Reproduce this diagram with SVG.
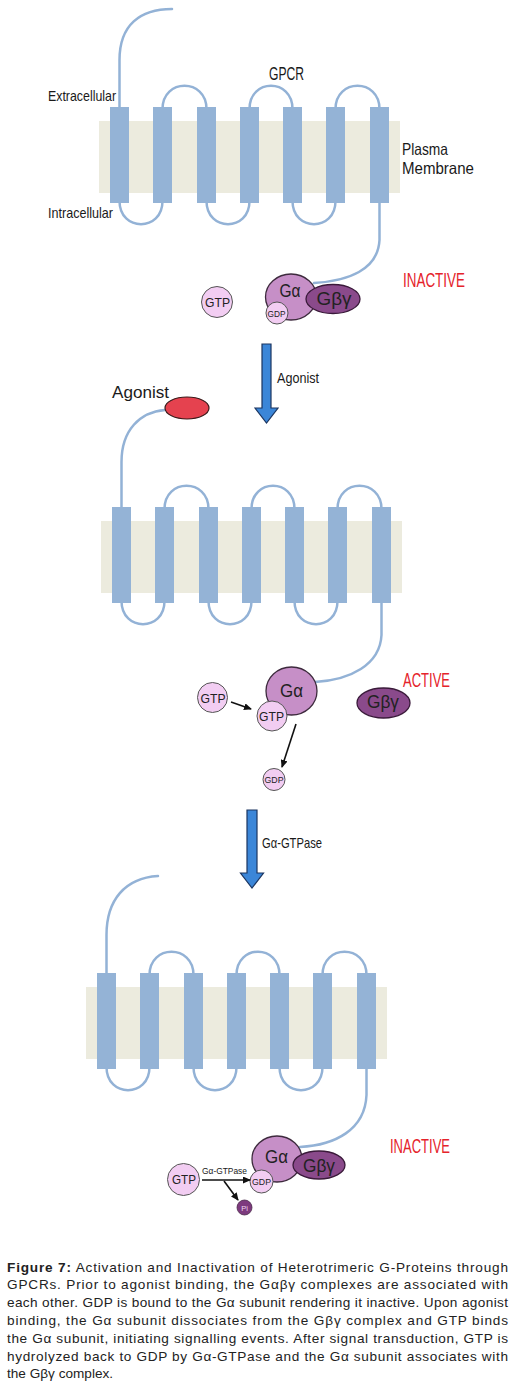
<svg xmlns="http://www.w3.org/2000/svg" xmlns:xlink="http://www.w3.org/1999/xlink" width="530" height="1388" viewBox="0 0 530 1388">
<style>
.mem{fill:#ecebde}
.hx{fill:#94b3d6}
.loop{fill:none;stroke:#93b2d6;stroke-width:2.5;stroke-linecap:round}
.lbl{font-family:"Liberation Sans",Arial,sans-serif;fill:#1a1a1a}
.red{font-family:"Liberation Sans",Arial,sans-serif;fill:#e5232b}
.ga{fill:#c68fc7;stroke:#3d2a3d;stroke-width:1.3}
.gbg{fill:#8a4a8b;stroke:#3a1a3a;stroke-width:1.3}
.nuc{fill:#f2cdf2;stroke:#555;stroke-width:1}
.pi{fill:#7d3a7e;stroke:#4a2a4a;stroke-width:0.8}
.mt{font-family:"Liberation Sans",Arial,sans-serif;fill:#222;text-anchor:middle}
.blue{fill:#3b86d8;stroke:#1b3560;stroke-width:1.2}
.sm{stroke:#111;stroke-width:1.6;fill:none}
.cap{font-family:"Liberation Sans",Arial,sans-serif;font-size:13.6px;fill:#222}
</style>
<defs>
<marker id="ah" markerUnits="userSpaceOnUse" markerWidth="8" markerHeight="7" refX="7" refY="3.5" orient="auto">
<path d="M0,0 L8,3.5 L0,7 z" fill="#111"/>
</marker>
<g id="gpcr-core">
<rect class="mem" x="-11" y="14" width="301" height="72"/>
<path class="loop" d="M52.5,2 C52.5,-29 96.5,-29 96.5,2 M139.5,2 C139.5,-29 182.5,-29 182.5,2 M225.5,2 C225.5,-29 269.5,-29 269.5,2"/>
<path class="loop" d="M9.5,94 C9.5,125 52.5,125 52.5,94 M96.5,94 C96.5,125 139.5,125 139.5,94 M182.5,94 C182.5,125 225.5,125 225.5,94"/>
<rect class="hx" x="0" y="0" width="19" height="96"/>
<rect class="hx" x="43" y="0" width="19" height="96"/>
<rect class="hx" x="87" y="0" width="19" height="96"/>
<rect class="hx" x="130" y="0" width="19" height="96"/>
<rect class="hx" x="173" y="0" width="19" height="96"/>
<rect class="hx" x="216" y="0" width="19" height="96"/>
<rect class="hx" x="260" y="0" width="19" height="96"/>
</g>
</defs>
<rect width="530" height="1388" fill="#fff"/>

<!-- Panel 1 -->
<g id="gpcr-top">
<path class="loop" d="M119.5,108 L119.5,60 C119.5,25 140,9 172,9"/>
<path class="loop" d="M379.5,202 L379.5,240 C378,270 348,281 314,283"/>
<use href="#gpcr-core" x="110" y="107"/>
</g>
<g id="labels-top">
<text class="lbl" x="48" y="101" font-size="14.5" textLength="68" lengthAdjust="spacingAndGlyphs">Extracellular</text>
<text class="lbl" x="48" y="218" font-size="14.5" textLength="65" lengthAdjust="spacingAndGlyphs">Intracellular</text>
<text class="lbl" x="269" y="80" font-size="18" textLength="35" lengthAdjust="spacingAndGlyphs">GPCR</text>
<text class="lbl" x="402" y="154.5" font-size="16.5" textLength="46" lengthAdjust="spacingAndGlyphs">Plasma</text>
<text class="lbl" x="402" y="173.5" font-size="16.5" textLength="72" lengthAdjust="spacingAndGlyphs">Membrane</text>
<text class="red" x="403" y="287" font-size="20" textLength="62" lengthAdjust="spacingAndGlyphs">INACTIVE</text>
</g>
<g id="gtp-top">
<circle class="nuc" cx="217" cy="302" r="15.5"/>
<text class="mt" x="217.5" y="307" font-size="13" textLength="25" lengthAdjust="spacingAndGlyphs">GTP</text>
</g>
<g id="galpha-top">
<ellipse class="ga" cx="291" cy="297" rx="25.5" ry="23"/>
<text class="mt" x="290" y="297" font-size="18" textLength="21" lengthAdjust="spacingAndGlyphs">Gα</text>
</g>
<g id="gbg-top">
<ellipse class="gbg" cx="333" cy="299" rx="27" ry="14.5"/>
<text class="mt" x="334" y="305" font-size="18" textLength="35" lengthAdjust="spacingAndGlyphs">Gβγ</text>
</g>
<g id="gdp-top">
<circle class="nuc" cx="277" cy="313" r="11"/>
<text class="mt" x="276.5" y="316.5" font-size="9" textLength="18" lengthAdjust="spacingAndGlyphs">GDP</text>
</g>

<!-- Panel 2 -->
<g id="gpcr-middle">
<path class="loop" d="M165,410 C140,412 121.5,430 121.5,462 L121.5,508"/>
<path class="loop" d="M381.5,602 L381.5,635 C380,665 350,680 315,682"/>
<use href="#gpcr-core" x="112" y="507"/>
</g>
<g id="agonist">
<ellipse cx="187" cy="408" rx="22" ry="11" fill="#e5424f" stroke="#3a1a1a" stroke-width="1.2"/>
<text class="lbl" x="112" y="398" font-size="16.5" textLength="57" lengthAdjust="spacingAndGlyphs">Agonist</text>
</g>
<g id="labels-middle">
<text class="red" x="403" y="687" font-size="20" textLength="47" lengthAdjust="spacingAndGlyphs">ACTIVE</text>
</g>
<g id="gtp-free-middle">
<circle class="nuc" cx="212.5" cy="697.5" r="15"/>
<text class="mt" x="213" y="702.5" font-size="13" textLength="25" lengthAdjust="spacingAndGlyphs">GTP</text>
</g>
<g id="galpha-middle">
<ellipse class="ga" cx="291.5" cy="691" rx="25.5" ry="24"/>
<text class="mt" x="291.5" y="697" font-size="18" textLength="23" lengthAdjust="spacingAndGlyphs">Gα</text>
</g>
<g id="gtp-bound-middle">
<circle class="nuc" cx="272" cy="716" r="15"/>
<text class="mt" x="271.5" y="721" font-size="13" textLength="25" lengthAdjust="spacingAndGlyphs">GTP</text>
</g>
<g id="gbg-middle">
<ellipse class="gbg" cx="383.5" cy="703" rx="26.5" ry="15"/>
<text class="mt" x="383" y="708" font-size="18" textLength="32" lengthAdjust="spacingAndGlyphs">Gβγ</text>
</g>
<g id="gdp-middle">
<circle class="nuc" cx="274" cy="779.5" r="11"/>
<text class="mt" x="274" y="783" font-size="9" textLength="19" lengthAdjust="spacingAndGlyphs">GDP</text>
</g>

<!-- Panel 3 -->
<g id="gpcr-bottom">
<path class="loop" d="M158,876 C125,878 106.5,900 106.5,935 L106.5,974"/>
<path class="loop" d="M366.5,1069 L366.5,1095 C365,1130 335,1145 300,1147"/>
<use href="#gpcr-core" x="97" y="973"/>
</g>
<g id="labels-bottom">
<text class="red" x="390" y="1153" font-size="20" textLength="60" lengthAdjust="spacingAndGlyphs">INACTIVE</text>
</g>
<g id="gtp-bottom">
<circle class="nuc" cx="183.5" cy="1179.5" r="16"/>
<text class="mt" x="184" y="1184" font-size="13" textLength="24" lengthAdjust="spacingAndGlyphs">GTP</text>
</g>
<g id="galpha-bottom">
<ellipse class="ga" cx="277" cy="1159" rx="25" ry="23"/>
<text class="mt" x="276.5" y="1163" font-size="18" textLength="23" lengthAdjust="spacingAndGlyphs">Gα</text>
</g>
<g id="gbg-bottom">
<ellipse class="gbg" cx="319" cy="1165" rx="26" ry="14"/>
<text class="mt" x="319" y="1172" font-size="18" textLength="32" lengthAdjust="spacingAndGlyphs">Gβγ</text>
</g>
<g id="gdp-bottom">
<circle class="nuc" cx="261.5" cy="1181.5" r="11.5"/>
<text class="mt" x="261.5" y="1185" font-size="9" textLength="19" lengthAdjust="spacingAndGlyphs">GDP</text>
</g>
<g id="pi-bottom">
<circle class="pi" cx="244.5" cy="1207.5" r="7.5"/>
<text class="mt" x="244.5" y="1210.5" font-size="7.5" style="fill:#f0d8f0">Pi</text>
</g>

<!-- Connectors -->
<g id="connectors">
<polygon class="blue" points="262,344 271,344 271,408 278,408 266.5,423 255,408 262,408"/>
<text class="lbl" x="277" y="383" font-size="15" textLength="42" lengthAdjust="spacingAndGlyphs">Agonist</text>
<polygon class="blue" points="247,810 257,810 257,873 263.5,873 252,888 240.5,873 247,873"/>
<text class="lbl" x="262" y="848" font-size="14.5" textLength="60" lengthAdjust="spacingAndGlyphs">Gα-GTPase</text>
<line class="sm" x1="231" y1="702" x2="251" y2="709" marker-end="url(#ah)"/>
<line class="sm" x1="296" y1="724" x2="282" y2="767" marker-end="url(#ah)"/>
<line class="sm" x1="202" y1="1180" x2="250" y2="1180" marker-end="url(#ah)"/>
<line class="sm" x1="224" y1="1181" x2="238" y2="1200" marker-end="url(#ah)"/>
<text class="lbl" x="202" y="1174" font-size="9" textLength="45" lengthAdjust="spacingAndGlyphs">Gα-GTPase</text>
</g>

<!-- Caption -->
<g id="caption">
<text class="cap" x="7" y="1271.5" textLength="501" lengthAdjust="spacing"><tspan font-weight="bold">Figure 7:</tspan> Activation and Inactivation of Heterotrimeric G-Proteins through</text>
<text class="cap" x="7" y="1289.3" textLength="501" lengthAdjust="spacing">GPCRs. Prior to agonist binding, the Gαβγ complexes are associated with</text>
<text class="cap" x="7" y="1307.1" textLength="501" lengthAdjust="spacing">each other. GDP is bound to the Gα subunit rendering it inactive. Upon agonist</text>
<text class="cap" x="7" y="1324.9" textLength="501" lengthAdjust="spacing">binding, the Gα subunit dissociates from the Gβγ complex and GTP binds</text>
<text class="cap" x="7" y="1342.7" textLength="501" lengthAdjust="spacing">the Gα subunit, initiating signalling events. After signal transduction, GTP is</text>
<text class="cap" x="7" y="1360.5" textLength="501" lengthAdjust="spacing">hydrolyzed back to GDP by Gα-GTPase and the Gα subunit associates with</text>
<text class="cap" x="7" y="1378.3">the Gβγ complex.</text>
</g>
</svg>
